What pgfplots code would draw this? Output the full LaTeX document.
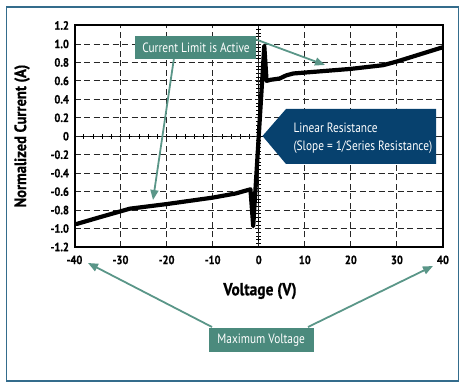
\documentclass[border=0pt]{standalone}
\usepackage{fontspec}
\setmainfont{PT Sans}[FakeStretch=0.88, BoldFeatures={FakeBold=0.6}]
\newfontfamily\annfont{PT Sans}[FakeStretch=0.84]
\usepackage{pgfplots}
\pgfplotsset{compat=1.18}
\usetikzlibrary{arrows.meta}
\definecolor{framebl}{RGB}{52,108,140}
\definecolor{teal1}{RGB}{75,138,125}
\definecolor{tealarr}{RGB}{90,150,136}
\definecolor{navy1}{RGB}{7,65,110}
\pgfplotstableread{
V I
-39.5 -0.950
-34.0 -0.870
-28.0 -0.785
-20.0 -0.735
-10.0 -0.665
-5.0 -0.620
-1.8 -0.575
-1.2 -0.975
1.2 0.980
1.7 0.600
2.6 0.612
4.5 0.625
6.0 0.660
7.5 0.680
20.0 0.730
27.0 0.770
30.0 0.810
40.0 0.965
}\ivcurve
\begin{document}
\begin{tikzpicture}[x=1pt,y=1pt]
\useasboundingbox (0,0) rectangle (466,388);
\draw[framebl, line width=1.6pt] (6.5,7) rectangle (458.5,381);
% zero lines with small ticks
\begin{axis}[
  at={(74.5pt,141pt)}, anchor=south west,
  scale only axis, width=368.5pt, height=221.5pt,
  xmin=-40, xmax=40, ymin=-1.2, ymax=1.2,
  axis lines=middle, axis line style={black, line width=1pt, -},
  xtick={-38,-36,...,38}, ytick={-1.16,-1.12,...,1.17},
  xticklabels={}, yticklabels={},
  tick align=center, major tick length=5pt,
  tick style={black, line width=0.6pt},
]
\end{axis}
\begin{axis}[
  at={(74.5pt,141pt)}, anchor=south west,
  scale only axis, width=368.5pt, height=221.5pt,
  xmin=-40, xmax=40, ymin=-1.2, ymax=1.2,
  xtick={-40,-30,...,40},
  ytick={-1.2,-1.0,-0.8,-0.6,-0.4,-0.2,0,0.2,0.4,0.6,0.8,1.0,1.2},
  yticklabels={-1.2,-1.0,-0.8,-0.6,-0.4,-0.2,0,0.2,0.4,0.6,0.8,1.0,1.2},
  major tick length=0pt,
  /pgf/number format/assume math mode=true,
  ticklabel style={font=\bfseries\fontsize{12}{14}\selectfont},
  xticklabel style={yshift=-5pt},
  yticklabel style={xshift=-2pt},
  grid=major,
  major grid style={black!85, line width=0.9pt, dash pattern=on 6pt off 3.5pt},
  axis line style={black, line width=2pt},
]
\addplot[black, line width=4.2pt, line join=round, line cap=round] table[x=V, y=I] {\ivcurve};
\end{axis}
% axis labels
\node[rotate=90, font=\bfseries\fontsize{16.5}{18}\selectfont] at (22,252) {Normalized Current (A)};
\node[font=\bfseries\fontsize{17.5}{19}\selectfont] at (260,97) {Voltage (V)};
% Current limit annotation
\draw[tealarr, line width=1.8pt, -{Triangle[length=10pt,width=8pt]}] (174,330) -- (153,188);
\draw[tealarr, line width=1.8pt, -{Triangle[length=10pt,width=8pt]}] (252,350) -- (325,323);
\fill[teal1] (135,329) rectangle (256,352);
\node[white, font=\annfont\fontsize{13.5}{15}\selectfont] at (196,340.5) {Current Limit is Active};
% Linear resistance annotation
\fill[navy1] (262.5,252) -- (286,279) -- (436,279) -- (436,224) -- (286,224) -- cycle;
\node[white, anchor=west, font=\annfont\fontsize{13.5}{15}\selectfont] at (290,259.7) {Linear Resistance};
\node[white, anchor=west, font=\annfont\fontsize{13.5}{15}\selectfont] at (290,241.3) {(Slope = 1/Series Resistance)};
% Maximum voltage annotation
\draw[tealarr, line width=1.8pt, -{Triangle[length=10pt,width=8pt]}] (212,61) -- (88,125);
\draw[tealarr, line width=1.8pt, -{Triangle[length=10pt,width=8pt]}] (308,61) -- (433,122);
\fill[teal1] (209,36.3) rectangle (313.5,60.3);
\node[white, font=\annfont\fontsize{13.5}{15}\selectfont] at (261.2,48.3) {Maximum Voltage};
\end{tikzpicture}
\end{document}
